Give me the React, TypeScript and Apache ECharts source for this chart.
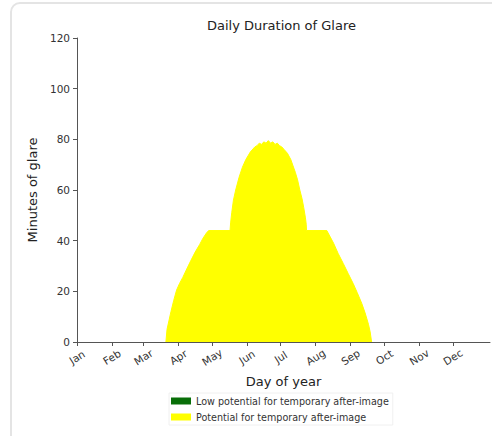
import React, { useEffect, useRef } from "react";
import * as echarts from "echarts";

const monthNames = ["Jan", "Feb", "Mar", "Apr", "May", "Jun", "Jul", "Aug", "Sep", "Oct", "Nov", "Dec"];
const monthStartDays = [1, 32, 60, 91, 121, 152, 182, 213, 244, 274, 305, 335];
const yTicks = [0, 20, 40, 60, 80, 100, 120];

// [day of year, minutes of glare]
const afterImage: [number, number][] = [
  [80, 0], [81, 5], [83, 9], [84.5, 12], [87, 16.5], [89.5, 20.5], [92, 23], [95, 25.5],
  [98.5, 28.8], [102, 32], [106, 35.5], [110, 38.5], [113, 41], [116, 43], [118, 44],
  [137, 44], [137.5, 47], [138.5, 51], [140, 56], [142, 60], [145, 65], [148, 69],
  [151, 72], [155, 75], [159, 77], [161, 77.5], [163, 78.5],
  [165, 78], [167, 79], [169, 78.5], [171, 79.5], [173, 78.5], [175, 79], [177, 78],
  [179, 78.5], [181, 77.5], [183, 77], [185, 76], [188, 74.5], [191, 72], [193, 69.5],
  [195, 67], [197, 64], [199, 60], [201, 56.5], [202.5, 53], [204, 49], [204.7, 46.5],
  [205, 44], [223, 44], [226, 41.5], [229, 39], [233, 35], [237.6, 31], [242, 27],
  [246.5, 23], [250, 19.5], [254, 15.3], [257, 11.5], [260, 7], [261.5, 4], [262.8, 0],
];
const lowAfterImage: [number, number][] = [];

const seriesNames = ["Low potential for temporary after-image", "Potential for temporary after-image"];

const FONT = "DejaVu Sans";

export default function App() {
  const ref = useRef<HTMLDivElement>(null);
  useEffect(() => {
    if (!ref.current) return;
    const chart = echarts.init(ref.current, undefined, { renderer: "svg" });
    chart.setOption({
      animation: false,
      backgroundColor: "transparent",
      textStyle: { fontFamily: FONT },
      title: {
        text: "Daily Duration of Glare",
        left: 281.5,
        top: 19,
        padding: 0,
        textAlign: "center",
        textStyle: { fontFamily: FONT, fontSize: 13, fontWeight: "normal", color: "#222" },
      },
      grid: { left: 77, top: 38, right: 2, bottom: 94, containLabel: false },
      legend: {
        orient: "vertical",
        left: 169,
        top: 393,
        padding: [2, 4, 2, 2],
        itemWidth: 20,
        itemHeight: 7,
        itemGap: 4,
        backgroundColor: "#fff",
        borderColor: "#f0f0f0",
        borderWidth: 1,
        textStyle: { fontFamily: FONT, fontSize: 9.6, color: "#333", lineHeight: 12 },
        data: [
          { name: seriesNames[0], icon: "rect", itemStyle: { color: "#086e08" } },
          { name: seriesNames[1], icon: "rect", itemStyle: { color: "#ffff00" } },
        ],
      },
      xAxis: {
        type: "value",
        min: 1,
        max: 368,
        name: "Day of year",
        nameLocation: "middle",
        nameGap: 33,
        nameTextStyle: { fontFamily: FONT, fontSize: 13, color: "#222" },
        splitLine: { show: false },
        axisLine: { show: true, lineStyle: { color: "#555", width: 1 } },
        axisTick: { show: true, length: 4, lineStyle: { color: "#555" }, customValues: monthStartDays },
        axisLabel: {
          customValues: monthStartDays,
          rotate: 32,
          align: "center",
          verticalAlign: "middle",
          margin: 15,
          fontFamily: FONT,
          fontSize: 10.5,
          color: "#333",
          formatter: (v: number) => {
            const i = monthStartDays.indexOf(Math.round(v));
            return i >= 0 ? monthNames[i] : "";
          },
        },
      },
      yAxis: {
        type: "value",
        min: yTicks[0],
        max: yTicks[yTicks.length - 1],
        interval: 20,
        name: "Minutes of glare",
        nameLocation: "middle",
        nameRotate: 90,
        nameGap: 36,
        nameTextStyle: { fontFamily: FONT, fontSize: 13, color: "#222" },
        splitLine: { show: false },
        axisLine: { show: true, lineStyle: { color: "#555", width: 1 } },
        axisTick: { show: true, length: 4, lineStyle: { color: "#555" } },
        axisLabel: { fontFamily: FONT, fontSize: 10.5, color: "#333", margin: 7 },
      },
      series: [
        {
          name: seriesNames[0],
          type: "line",
          data: lowAfterImage,
          symbol: "none",
          color: "#086e08",
          lineStyle: { width: 0 },
          areaStyle: { color: "#086e08", opacity: 1 },
        },
        {
          name: seriesNames[1],
          type: "line",
          data: afterImage,
          symbol: "none",
          color: "#ffff00",
          lineStyle: { width: 1, color: "#ffff00" },
          areaStyle: { color: "#ffff00", opacity: 1 },
          z: 1,
        },
      ],
    });
    return () => chart.dispose();
  }, []);

  return (
    <div style={{ position: "fixed", left: 0, top: 0, width: 492, height: 436, overflow: "hidden", background: "#fff" }}>
      <div
        style={{
          position: "absolute",
          left: 10,
          top: 2,
          width: 600,
          height: 600,
          border: "2px solid #e4e4e4",
          borderRadius: 10,
          boxSizing: "border-box",
        }}
      />
      <div ref={ref} style={{ position: "absolute", left: 0, top: 0, width: 492, height: 436 }} />
    </div>
  );
}
